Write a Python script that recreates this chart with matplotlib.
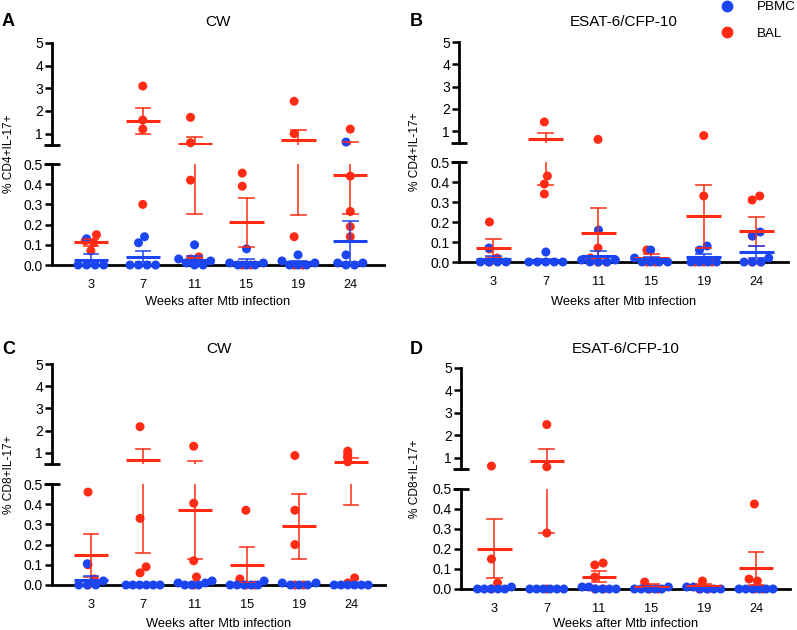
import numpy as np
import matplotlib
matplotlib.use("Agg")
import matplotlib.pyplot as plt
from matplotlib.lines import Line2D

plt.rcParams['font.family'] = ['Liberation Sans', 'DejaVu Sans']

# ---------------- data ----------------
weeks = ["3", "7", "11", "15", "19", "24"]

# Panel A: % CD4+IL-17+, CW
pbmc_A = [
    [0.13, 0.0, 0.0, 0.0, 0.0],
    [0.11, 0.14, 0.0, 0.0, 0.0, 0.0],
    [0.10, 0.03, 0.02, 0.0, 0.01, 0.0],
    [0.08, 0.01, 0.0, 0.0, 0.01, 0.0],
    [0.05, 0.02, 0.01, 0.0, 0.0, 0.0],
    [0.63, 0.05, 0.01, 0.0, 0.0, 0.01],
]
bal_A = [
    [0.12, 0.07, 0.11, 0.15],
    [3.1, 1.6, 1.2, 0.3],
    [1.72, 0.6, 0.42, 0.04, 0.03],
    [0.455, 0.39, 0.0, 0.0],
    [2.43, 1.0, 0.14, 0.0, 0.0],
    [1.2, 0.44, 0.265, 0.19, 0.14],
]

# Panel B: % CD4+IL-17+, ESAT-6/CFP-10
pbmc_B = [
    [0.07, 0.0, 0.0, 0.0, 0.0],
    [0.05, 0.0, 0.0, 0.0, 0.0, 0.0],
    [0.16, 0.01, 0.0, 0.0, 0.01, 0.0],
    [0.06, 0.02, 0.0, 0.0, 0.0, 0.0],
    [0.08, 0.06, 0.0, 0.0, 0.0, 0.0],
    [0.15, 0.13, 0.02, 0.0, 0.0, 0.0],
]
bal_B = [
    [0.2, 0.065, 0.02, 0.0],
    [1.42, 0.43, 0.39, 0.34],
    [0.64, 0.07, 0.02, 0.0, 0.0],
    [0.06, 0.0, 0.0],
    [0.81, 0.33, 0.0, 0.0, 0.0],
    [0.33, 0.31, 0.13, 0.0, 0.0],
]

# Panel C: % CD8+IL-17+, CW
pbmc_C = [
    [0.105, 0.02, 0.0, 0.0, 0.0],
    [0.0, 0.0, 0.0, 0.0, 0.0, 0.0],
    [0.02, 0.01, 0.0, 0.0, 0.0, 0.01],
    [0.02, 0.0, 0.0, 0.0, 0.0, 0.0],
    [0.01, 0.0, 0.01, 0.0, 0.0],
    [0.0, 0.0, 0.0, 0.0, 0.0, 0.0],
]
bal_C = [
    [0.46, 0.1, 0.03, 0.0],
    [2.18, 0.33, 0.09, 0.06],
    [1.3, 0.405, 0.12, 0.04, 0.0],
    [0.37, 0.03, 0.0, 0.0],
    [0.88, 0.37, 0.2, 0.0, 0.0],
    [1.08, 0.95, 0.82, 0.6, 0.035, 0.01],
]

# Panel D: % CD8+IL-17+, ESAT-6/CFP-10
pbmc_D = [
    [0.01, 0.0, 0.0, 0.0, 0.0, 0.0],
    [0.0, 0.0, 0.0, 0.0, 0.0, 0.0],
    [0.01, 0.0, 0.0, 0.0, 0.01, 0.0],
    [0.01, 0.0, 0.0, 0.0, 0.0, 0.0],
    [0.01, 0.0, 0.0, 0.01, 0.0, 0.0],
    [0.0, 0.0, 0.0, 0.0, 0.0, 0.0],
]
bal_D = [
    [0.63, 0.15, 0.03, 0.0],
    [2.47, 0.6, 0.28, 0.0],
    [0.13, 0.12, 0.06, 0.0, 0.0],
    [0.035, 0.0, 0.0],
    [0.04, 0.0, 0.0],
    [0.425, 0.05, 0.04, 0.0, 0.0],
]

series_labels = ["PBMC", "BAL"]
xlabel = "Weeks after Mtb infection"

# ---------------- style ----------------
BLUE = '#1C45F2'
RED = '#FF2B14'
BREAK = 0.5
W, H = 797, 630

fig = plt.figure(figsize=(W / 100, H / 100), dpi=100)


def rect(left, right, top, bottom):
    return [left / W, 1 - bottom / H, (right - left) / W, (bottom - top) / H]


panels = [
    dict(letter='A', title='CW', ylabel='% CD4+IL-17+', pbmc=pbmc_A, bal=bal_A,
         x=(52, 384), up=(43, 145), lo=(164, 265), xlim=(-0.75, 5.65),
         lx=2, ty=22, ylx=9, xly=302),
    dict(letter='B', title='ESAT-6/CFP-10', ylabel='% CD4+IL-17+', pbmc=pbmc_B, bal=bal_B,
         x=(459, 788), up=(42, 142.5), lo=(162, 262), xlim=(-0.65, 5.6),
         lx=410, ty=22, ylx=415, xly=302),
    dict(letter='C', title='CW', ylabel='% CD8+IL-17+', pbmc=pbmc_C, bal=bal_C,
         x=(52, 385), up=(364, 464), lo=(484, 585), xlim=(-0.75, 5.65),
         lx=2, ty=349, ylx=9, xly=624),
    dict(letter='D', title='ESAT-6/CFP-10', ylabel='% CD8+IL-17+', pbmc=pbmc_D, bal=bal_D,
         x=(461, 790), up=(367.5, 469), lo=(489, 589), xlim=(-0.64, 5.65),
         lx=410, ty=349, ylx=415, xly=624),
]

DOT_PX = 9.0
MARKER_S = (DOT_PX * 72 / 100) ** 2


def swarm(ypix, d, maxhalf=17.0):
    ypix = np.asarray(ypix, float)
    order = np.argsort(ypix, kind='stable')
    placed = []
    offs = np.zeros(len(ypix))
    for i in order:
        y = ypix[i]
        cands = [0.0]
        for px, py in placed:
            dy = abs(py - y)
            if dy < d:
                dx = np.sqrt(d * d - dy * dy)
                cands += [px + dx, px - dx]
        best = 0.0
        for c in sorted(cands, key=lambda c: (abs(c), -c)):
            if all((c - px) ** 2 + (y - py) ** 2 >= d * d - 1e-6 for px, py in placed):
                best = c
                break
        offs[i] = best
        placed.append((best, y))
    if len(offs):
        offs -= (offs.max() + offs.min()) / 2
        m = np.max(np.abs(offs))
        if m > maxhalf:
            offs *= maxhalf / m
    return offs


def style_axes(axu, axl, xlim):
    for ax in (axu, axl):
        ax.set_xlim(*xlim)
        ax.patch.set_alpha(0)
        for s in ('top', 'right'):
            ax.spines[s].set_visible(False)
        ax.spines['left'].set_linewidth(2.0)
        ax.tick_params(axis='y', direction='out', length=5, width=1.8,
                       labelsize=10, pad=1.5)
    axu.set_ylim(BREAK, 5)
    axl.set_ylim(0, BREAK)
    axu.spines['bottom'].set_visible(False)
    axu.set_xticks([])
    axu.set_yticks([1, 2, 3, 4, 5])
    axu.set_yticklabels(['1', '2', '3', '4', '5'])
    axu.set_yticks([BREAK], minor=True)
    axu.yaxis.remove_overlapping_locs = False
    axu.tick_params(axis='y', which='minor', direction='inout', length=12, width=2.0)
    axl.spines['bottom'].set_linewidth(2.0)
    axl.set_yticks([0, 0.1, 0.2, 0.3, 0.4, 0.5])
    axl.set_yticklabels([f'{v:.1f}' for v in [0, 0.1, 0.2, 0.3, 0.4, 0.5]])
    axl.set_yticks([BREAK], minor=True)
    axl.yaxis.remove_overlapping_locs = False
    axl.tick_params(axis='y', which='minor', direction='inout', length=12, width=2.0)
    axl.set_xticks(range(len(weeks)))
    axl.set_xticklabels(weeks)
    axl.tick_params(axis='x', length=0, labelsize=9.2, pad=10)


def draw_points(axu, axl, i, vals, color, z):
    vals = np.asarray(vals, float)
    # swarm layout computed on the lower-segment scale for all points
    ypix = np.array([axl.transData.transform((i, y))[1] for y in vals])
    offs = swarm(ypix, DOT_PX * 0.95)
    for ax, mask in ((axu, vals > BREAK), (axl, vals <= BREAK)):
        if not mask.any():
            continue
        ppu = ax.transData.transform((1, 0))[0] - ax.transData.transform((0, 0))[0]
        ax.scatter(i + offs[mask] / ppu, vals[mask], s=MARKER_S, color=color,
                   edgecolors='none', zorder=z, clip_on=False)


def draw_stats(axu, axl, i, vals, color, z):
    vals = np.asarray(vals, float)
    m = vals.mean()
    sem = vals.std(ddof=1) / np.sqrt(len(vals)) if len(vals) > 1 else 0.0
    lo, hi = m - sem, m + sem
    for ax in (axu, axl):
        ax.plot([i, i], [max(lo, 0), hi], color=color, lw=1.3, alpha=0.85, zorder=z,
                solid_capstyle='butt')
        ax.plot([i - 0.14, i + 0.14], [hi, hi], color=color, lw=1.3, alpha=0.85, zorder=z)
        if lo > 0:
            ax.plot([i - 0.14, i + 0.14], [lo, lo], color=color, lw=1.3, alpha=0.85, zorder=z)
        ax.plot([i - 0.33, i + 0.33], [m, m], color=color, lw=2.2, zorder=z + 0.1,
                solid_capstyle='butt')


for p in panels:
    axu = fig.add_axes(rect(p['x'][0], p['x'][1], p['up'][0], p['up'][1]))
    axl = fig.add_axes(rect(p['x'][0], p['x'][1], p['lo'][0], p['lo'][1]))
    style_axes(axu, axl, p['xlim'])
    for i in range(len(weeks)):
        draw_points(axu, axl, i, p['bal'][i], RED, 3)
        draw_points(axu, axl, i, p['pbmc'][i], BLUE, 3.5)
    for i in range(len(weeks)):
        draw_stats(axu, axl, i, p['bal'][i], RED, 4)
        draw_stats(axu, axl, i, p['pbmc'][i], BLUE, 4.5)
    cx = (p['x'][0] + p['x'][1]) / 2
    fig.text(cx / W, 1 - p['ty'] / H, p['title'], ha='center', va='center', fontsize=11)
    fig.text(p['lx'] / W, 1 - p['ty'] / H, p['letter'], ha='left', va='center',
             fontsize=13, fontweight='bold')
    fig.text(p['ylx'] / W, 1 - ((p['up'][0] + p['lo'][1]) / 2) / H, p['ylabel'],
             rotation=90, ha='center', va='center', fontsize=8.6)
    fig.text(cx / W, 1 - p['xly'] / H, xlabel, ha='center', va='center', fontsize=9.3)

handles = [Line2D([], [], marker='o', ls='', color=BLUE, markersize=8.5, markeredgewidth=0),
           Line2D([], [], marker='o', ls='', color=RED, markersize=8.5, markeredgewidth=0)]
fig.legend(handles, series_labels, loc='upper left', bbox_to_anchor=(720 / W, 1 - 1 / H),
           frameon=False, borderaxespad=0, borderpad=0, handlelength=1.0,
           handletextpad=1.75, labelspacing=1.05, fontsize=9.6)

fig.savefig('out.png', dpi=100)
